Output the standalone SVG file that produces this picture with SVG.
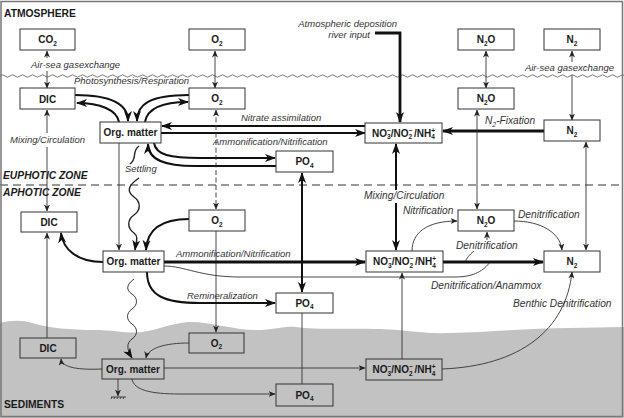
<svg xmlns="http://www.w3.org/2000/svg" width="624" height="418" viewBox="0 0 624 418">
<defs>
<style>
.bx{fill:#fff;stroke:#333;stroke-width:1}
.sb{fill:none;stroke:#333;stroke-width:1}
.nt{font:bold 10px "Liberation Sans",Arial,sans-serif;fill:#1a1a1a;text-anchor:middle}
.s{font-size:6.5px}
.lb{font:italic 9.5px "Liberation Sans",Arial,sans-serif;fill:#333}
.lg{font-size:10.2px}
.hd{font:bold 10.3px "Liberation Sans",Arial,sans-serif;fill:#1a1a1a}
.hi{font-style:italic}
.t2{fill:none;stroke:#111;stroke-width:2}
.t3{fill:none;stroke:#111;stroke-width:2.8}
.t1{fill:none;stroke:#333;stroke-width:0.9}
.ea{marker-end:url(#ah)}
.ba{marker-end:url(#ah);marker-start:url(#ah)}
.es{marker-end:url(#as)}
.bs{marker-end:url(#as);marker-start:url(#as)}
</style>
<marker id="ah" markerUnits="userSpaceOnUse" markerWidth="11" markerHeight="8" refX="10" refY="4" orient="auto-start-reverse"><path d="M0,0 L11,4 L0,8 L3,4 Z" fill="#111"/></marker>
<marker id="as" markerUnits="userSpaceOnUse" markerWidth="7" markerHeight="6" refX="6.5" refY="3" orient="auto-start-reverse"><path d="M0,0 L7,3 L0,6 L2,3 Z" fill="#222"/></marker>
<pattern id="wv" patternUnits="userSpaceOnUse" x="0" y="73" width="10" height="6"><path d="M0,3 Q2.5,0.6 5,3 T10,3" fill="none" stroke="#555" stroke-width="0.8"/></pattern>
</defs>

<rect x="0" y="0" width="624" height="418" fill="#fff"/>
<path id="sediment" d="M0,323 C12,320 22,320 32,323 C50,328 70,330 95,330 C115,330 128,334 142,332 C158,330 168,324 188,322 C210,321 235,331 262,330 C278,329 284,326 296,327 C318,330 345,328 380,329 C408,330 425,334 450,333 C490,332 530,328 570,328 L624,327 L624,418 L0,418 Z" fill="#c2c2c2"/>
<rect x="0" y="73" width="624" height="6" fill="url(#wv)"/>
<line x1="0" y1="185" x2="624" y2="185" stroke="#333" stroke-width="1" stroke-dasharray="8,5"/>
<rect x="1" y="1.5" width="621.5" height="415" fill="none" stroke="#777" stroke-width="1.5"/>

<g id="zones">
<text class="hd" x="4" y="17">ATMOSPHERE</text>
<text class="hd hi" x="3" y="179">EUPHOTIC ZONE</text>
<text class="hd hi" x="3" y="196">APHOTIC ZONE</text>
<text class="hd" x="4" y="408">SEDIMENTS</text>
</g>

<g id="connectors">
<path class="t1 es" d="M47,58 L47,51"/>
<path class="t1 es" d="M47,71 L47,88"/>
<path class="t1 bs" d="M215,51 L215,88"/>
<path class="t1 bs" d="M486,51 L486,88"/>
<path class="t1 es" d="M572,62 L572,51"/>
<path class="t1 es" d="M572,75 L572,120"/>
<path class="t2 ea" d="M75,95 C112,95 128,104 128,121"/>
<path class="t2 ea" d="M119,122 C117,110 100,103 77,103"/>
<path class="t2 ea" d="M189,95 C150,95 137,104 137,121"/>
<path class="t2 ea" d="M145,122 C147,110 160,102 188,102"/>
<path class="t2 ea" d="M365,126 L162,126"/>
<path class="t2 ea" d="M161,133 L365,133"/>
<path class="t3 ea" d="M544,131 L443,131"/>
<path class="t3 ea" d="M375,33 L400,33 L400,122"/>
<path class="t2 ea" d="M154,143 C156,155 170,158 200,158 L275,158"/>
<path class="t2 ea" d="M276,166 L195,166 C165,166 148,160 148,144"/>
<path fill="none" stroke="#222" stroke-width="1.4" d="M139,146 C131,152 138,158 130,164"/>
<path fill="none" stroke="#222" stroke-width="1.4" class="ea" d="M139,178 C127,186 127,192 134,197 C141,202 141,210 134,215 C127,220 127,228 134,233 C139,237 136,242 135,250"/>
<path class="t1 es" d="M119,143 L119,250"/>
<path class="t2 ea" d="M189,219 C160,219 147,230 146,250"/>
<path class="t1 bs" d="M216,110 L216,209" stroke-dasharray="5,2.5"/>
<path class="t1 es" d="M216,231 L216,332"/>
<path class="t2 ea" d="M103,262 C78,262 63,250 61,233"/>
<path class="t1 es" d="M47,133 L47,110"/>
<path class="t1 es" d="M47,147 L47,211"/>
<path class="t1 es" d="M47,338 L47,233"/>
<path class="t3 ea" d="M164,262 L365,262"/>
<path class="t1" d="M164,266 C185,266 200,277 240,277 L455,277 C475,277 484,270 490,262"/>
<path class="t2 ea" d="M396,190 L396,144"/>
<path class="t2 ea" d="M396,203 L396,250"/>
<path class="t1 bs" d="M477,110 L477,209"/>
<path class="t1 bs" d="M586,142 L586,250"/>
<path class="t1 es" d="M412,251 C412,232 428,221 457,221"/>
<path class="t1 es" d="M514,221 C540,221 560,232 562,250"/>
<path class="t1 es" d="M487,240 L487,232"/>
<path class="t1" d="M474,251 C469,255 467,258 465,262"/>
<path class="t3 ea" d="M443,262 L543,262"/>
<path class="t2 ba" d="M302,173 L302,292"/>
<path class="t2 ea" d="M147,272 C147,296 165,303 200,303 L275,303"/>
<path fill="none" stroke="#333" stroke-width="1" class="ea" d="M134,279 C126,285 126,290 132,294 C138,298 138,305 132,309 C126,313 126,320 132,324 C138,328 138,335 132,339 C126,343 127,350 132,358"/>
<path class="t1 es" d="M189,343 C165,343 148,348 146,358"/>
<path class="t1 es" d="M102,369 C80,370 62,368 61,359"/>
<path class="t1 es" d="M164,368 L365,368"/>
<path class="t1 es" d="M132,379 C134,390 150,394 180,394 L275,394"/>
<path class="t1" d="M302,313 L302,384"/>
<path class="t1 es" d="M402,359 L402,273"/>
<path class="t1 es" d="M442,369 C520,366 566,330 572,272"/>
<path class="t1 es" d="M118,379 L118,396"/>
<path class="t1" d="M111,397 L126,397 M112,397 L111,399 M115,397 L114,399 M118,397 L117,399 M121,397 L120,399 M124,397 L123,399"/>
</g>

<g id="labels">
<text class="lb" x="31" y="68">Air-sea gasexchange</text>
<text class="lb" x="74" y="83.5">Photosynthesis/Respiration</text>
<text class="lb" x="397" y="26.5" text-anchor="end">Atmospheric deposition</text>
<text class="lb" x="370" y="37.5" text-anchor="end">river input</text>
<text class="lb" x="614" y="71" text-anchor="end">Air-sea gasexchange</text>
<text class="lb" x="241" y="121">Nitrate assimilation</text>
<text class="lb lg" x="485" y="124">N<tspan font-size="6.8" dy="2.5">2</tspan><tspan dy="-2.5">-Fixation</tspan></text>
<text class="lb" x="10" y="143">Mixing/Circulation</text>
<text class="lb" x="213" y="145">Ammonification/Nitrification</text>
<text class="lb" x="125" y="172">Settling</text>
<text class="lb lg" x="364" y="199">Mixing/Circulation</text>
<text class="lb lg" x="403" y="214">Nitrification</text>
<text class="lb lg" x="518" y="218">Denitrification</text>
<text class="lb lg" x="456" y="249">Denitrification</text>
<text class="lb" x="176" y="257">Ammonification/Nitrification</text>
<text class="lb lg" x="431" y="289">Denitrification/Anammox</text>
<text class="lb" x="187" y="298.5">Remineralization</text>
<text class="lb lg" x="513" y="307">Benthic Denitrification</text>
</g>

<g id="n-co2"><rect class="bx" x="20" y="29" width="55" height="21"/><text class="nt" x="47.5" y="43">CO<tspan class="s" dy="2.5">2</tspan></text></g>
<g id="n-o2-atm"><rect class="bx" x="189" y="29" width="56" height="21"/><text class="nt" x="217" y="43">O<tspan class="s" dy="2.5">2</tspan></text></g>
<g id="n-n2o-atm"><rect class="bx" x="458" y="29" width="56" height="21"/><text class="nt" x="486" y="43">N<tspan class="s" dy="2.5">2</tspan><tspan dy="-2.5">O</tspan></text></g>
<g id="n-n2-atm"><rect class="bx" x="544" y="29" width="56" height="21"/><text class="nt" x="572" y="43">N<tspan class="s" dy="2.5">2</tspan></text></g>
<g id="n-dic-eu"><rect class="bx" x="20" y="88" width="55" height="21"/><text class="nt" x="47.5" y="102.5">DIC</text></g>
<g id="n-o2-eu"><rect class="bx" x="189" y="88" width="56" height="21"/><text class="nt" x="217" y="102">O<tspan class="s" dy="2.5">2</tspan></text></g>
<g id="n-n2o-eu"><rect class="bx" x="458" y="88" width="56" height="21"/><text class="nt" x="486" y="102">N<tspan class="s" dy="2.5">2</tspan><tspan dy="-2.5">O</tspan></text></g>
<g id="n-n2-eu"><rect class="bx" x="544" y="120" width="56" height="21"/><text class="nt" x="572" y="134">N<tspan class="s" dy="2.5">2</tspan></text></g>
<g id="n-org-eu"><rect class="bx" x="100" y="122" width="61" height="21"/><text class="nt" x="130.5" y="136">Org. matter</text></g>
<g id="n-no3-eu"><rect class="bx" x="365" y="123" width="77" height="20"/><text class="nt" x="403.5" y="136.5">NO<tspan class="s" dy="2.5">3</tspan><tspan class="s" dx="-3.6" dy="-6.5">−</tspan><tspan dy="4">/NO</tspan><tspan class="s" dy="2.5">2</tspan><tspan class="s" dx="-3.6" dy="-6.5">−</tspan><tspan dx="1.5" dy="4">/NH</tspan><tspan class="s" dy="2.5">4</tspan><tspan class="s" dx="-3.6" dy="-6.5">+</tspan></text></g>
<g id="n-po4-eu"><rect class="bx" x="276" y="151" width="57" height="21"/><text class="nt" x="304.5" y="165">PO<tspan class="s" dy="2.5">4</tspan></text></g>
<g id="n-o2-aph"><rect class="bx" x="189" y="210" width="56" height="21"/><text class="nt" x="217" y="224">O<tspan class="s" dy="2.5">2</tspan></text></g>
<g id="n-dic-aph"><rect class="bx" x="21" y="212" width="56" height="20"/><text class="nt" x="49" y="225.5">DIC</text></g>
<g id="n-n2o-aph"><rect class="bx" x="458" y="210" width="56" height="21"/><text class="nt" x="486" y="224">N<tspan class="s" dy="2.5">2</tspan><tspan dy="-2.5">O</tspan></text></g>
<g id="n-org-aph"><rect class="bx" x="103" y="251" width="61" height="21"/><text class="nt" x="133.5" y="265">Org. matter</text></g>
<g id="n-no3-aph"><rect class="bx" x="366" y="251" width="77" height="21"/><text class="nt" x="404.5" y="265">NO<tspan class="s" dy="2.5">3</tspan><tspan class="s" dx="-3.6" dy="-6.5">−</tspan><tspan dy="4">/NO</tspan><tspan class="s" dy="2.5">2</tspan><tspan class="s" dx="-3.6" dy="-6.5">−</tspan><tspan dx="1.5" dy="4">/NH</tspan><tspan class="s" dy="2.5">4</tspan><tspan class="s" dx="-3.6" dy="-6.5">+</tspan></text></g>
<g id="n-n2-aph"><rect class="bx" x="544" y="251" width="56" height="21"/><text class="nt" x="572" y="265">N<tspan class="s" dy="2.5">2</tspan></text></g>
<g id="n-po4-aph"><rect class="bx" x="276" y="293" width="57" height="20"/><text class="nt" x="304.5" y="306.5">PO<tspan class="s" dy="2.5">4</tspan></text></g>
<g id="n-dic-sed"><rect class="sb" x="20" y="338" width="56" height="20"/><text class="nt" x="48" y="351.5">DIC</text></g>
<g id="n-o2-sed"><rect class="sb" x="189" y="333" width="55" height="20"/><text class="nt" x="216.5" y="346.5">O<tspan class="s" dy="2.5">2</tspan></text></g>
<g id="n-org-sed"><rect class="sb" x="102" y="359" width="62" height="20"/><text class="nt" x="133" y="372.5">Org. matter</text></g>
<g id="n-no3-sed"><rect class="sb" x="366" y="359" width="76" height="21"/><text class="nt" x="404" y="373">NO<tspan class="s" dy="2.5">3</tspan><tspan class="s" dx="-3.6" dy="-6.5">−</tspan><tspan dy="4">/NO</tspan><tspan class="s" dy="2.5">2</tspan><tspan class="s" dx="-3.6" dy="-6.5">−</tspan><tspan dx="1.5" dy="4">/NH</tspan><tspan class="s" dy="2.5">4</tspan><tspan class="s" dx="-3.6" dy="-6.5">+</tspan></text></g>
<g id="n-po4-sed"><rect class="sb" x="276" y="384" width="57" height="22"/><text class="nt" x="304.5" y="398.5">PO<tspan class="s" dy="2.5">4</tspan></text></g>
</svg>
